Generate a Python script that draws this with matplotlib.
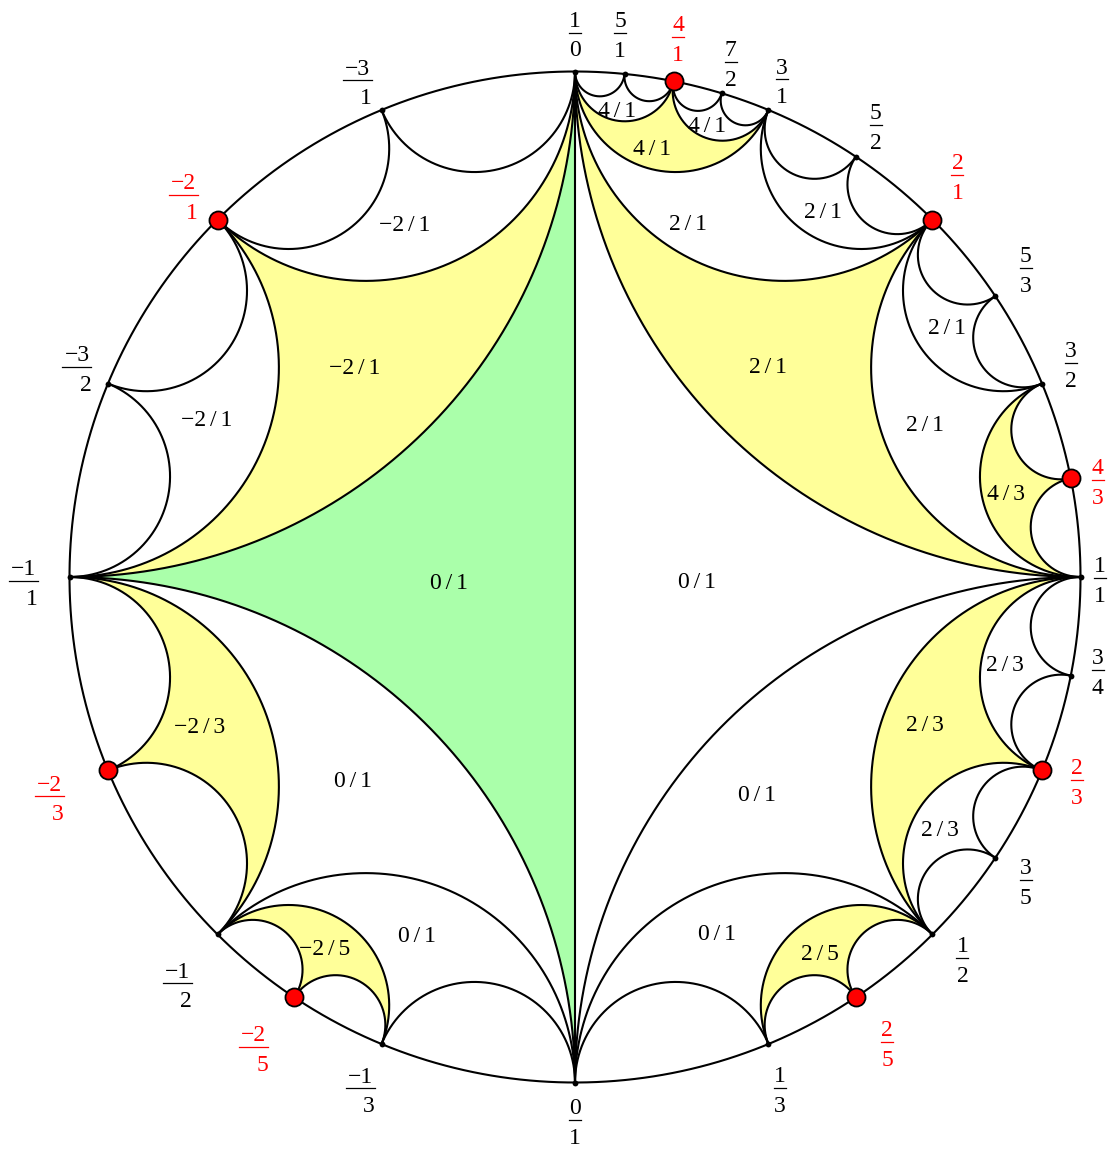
import numpy as np
import matplotlib.pyplot as plt
from matplotlib.patches import Polygon

plt.rcParams['font.family'] = ['Liberation Serif', 'DejaVu Serif']

# boundary points of the Farey diagram (p/q, 1/0 is infinity)
fractions = ["1/0", "5/1", "4/1", "7/2", "3/1", "5/2", "2/1", "5/3", "3/2", "4/3",
             "1/1", "3/4", "2/3", "3/5", "1/2", "2/5", "1/3", "0/1",
             "-1/3", "-2/5", "-1/2", "-2/3", "-1/1", "-3/2", "-2/1", "-3/1"]
marked = ["4/1", "2/1", "4/3", "2/3", "2/5", "-2/5", "-2/3", "-2/1"]

# Farey triangles, the slope written in each and how it is shaded
triangles = [
    ("0/1", "1/1", "1/0"), ("1/1", "2/1", "1/0"), ("2/1", "3/1", "1/0"),
    ("3/1", "4/1", "1/0"), ("4/1", "5/1", "1/0"), ("3/1", "7/2", "4/1"),
    ("2/1", "5/2", "3/1"), ("1/1", "3/2", "2/1"), ("3/2", "5/3", "2/1"),
    ("1/1", "4/3", "3/2"), ("0/1", "1/2", "1/1"), ("1/2", "2/3", "1/1"),
    ("2/3", "3/4", "1/1"), ("1/2", "3/5", "2/3"), ("0/1", "1/3", "1/2"),
    ("1/3", "2/5", "1/2"),
    ("-1/1", "0/1", "1/0"), ("-2/1", "-1/1", "1/0"), ("-3/1", "-2/1", "1/0"),
    ("-2/1", "-3/2", "-1/1"), ("-1/1", "-1/2", "0/1"), ("-1/1", "-2/3", "-1/2"),
    ("-1/2", "-1/3", "0/1"), ("-1/2", "-2/5", "-1/3"),
]
triangle_labels = ["0/1", "2/1", "2/1", "4/1", "4/1", "4/1", "2/1", "2/1", "2/1",
                   "4/3", "0/1", "2/3", "2/3", "2/3", "0/1", "2/5",
                   "0/1", "-2/1", "-2/1", "-2/1", "0/1", "-2/3", "0/1", "-2/5"]
triangle_kind = ["none", "yes", "none", "yes", "none", "none", "none", "none", "none",
                 "yes", "none", "yes", "none", "none", "none", "yes",
                 "base", "yes", "none", "none", "none", "yes", "none", "yes"]

# layout (pixels)
CX, CY, R = 575.0, 577.0, 505.5
fill_colors = {"none": "white", "yes": "#ffff99", "base": "#aaffaa"}
label_offsets = {
    "1/0": (-0.5, -39), "5/1": (-4.5, -41), "4/1": (4.5, -44.5), "7/2": (9, -31.5),
    "3/1": (13.5, -30.5), "5/2": (20, -32), "2/1": (25, -44.5), "5/3": (30.5, -28),
    "3/2": (28.5, -21), "4/3": (27, 1.5), "1/1": (19.5, 0.7), "3/4": (27, -5.5),
    "2/3": (34.5, 9.5), "3/5": (30.5, 22), "1/2": (30, 23.3), "2/5": (31.5, 44.5),
    "1/3": (11.5, 43.7), "0/1": (-0.5, 37.5), "-1/3": (-21, 44.3), "-2/5": (-40.5, 49.5),
    "-1/2": (-40, 49), "-2/3": (-58.5, 26), "-1/1": (-46.5, 4), "-3/2": (-31, -16.5),
    "-2/1": (-34, -24.5), "-3/1": (-24, -29.5),
}
region_xy = [(697, 580), (768, 365), (688, 222), (652, 147), (617, 109), (707, 124),
             (823, 210), (925, 423), (947, 326), (1006, 492), (757, 793), (925, 723),
             (1005, 663), (940, 828), (717, 932), (820, 952),
             (449, 581), (355, 366), (405, 223), (207, 418), (353, 779), (200, 725),
             (417, 934), (325, 947)]
FS = 17
BASE = 8.0   # baseline sits this many pixels below the digit centre


def parse(f):
    p, q = f.split("/")
    return int(p), int(q)


def sb_position(p, q):
    # 0/1 -> 0, 1/1 -> 1/2, 1/0 -> 1, mediants split intervals in half
    if q == 0:
        return 1.0
    if p == 0:
        return 0.0
    lo, hi = (0, 1), (1, 0)
    tlo, thi = 0.0, 1.0
    while True:
        m = (lo[0] + hi[0], lo[1] + hi[1])
        tm = 0.5 * (tlo + thi)
        if m[0] * q == p * m[1]:
            return tm
        if p * m[1] < m[0] * q:
            hi, thi = m, tm
        else:
            lo, tlo = m, tm


def angle(f):
    p, q = parse(f)
    if p < 0:
        return np.radians(270.0 - 180.0 * sb_position(-p, q))
    return np.radians(-90.0 + 180.0 * sb_position(p, q))


def to_px(xy):
    xy = np.atleast_2d(xy)
    return np.column_stack([CX + R * xy[:, 0], CY - R * xy[:, 1]])


def geodesic(f, g, n=300):
    a, b = angle(f), angle(g)
    u = np.array([np.cos(a), np.sin(a)])
    v = np.array([np.cos(b), np.sin(b)])
    s = u + v
    if np.linalg.norm(s) < 1e-9:
        t = np.linspace(0, 1, n)[:, None]
        return to_px(u + (v - u) * t)
    half = 0.5 * np.arccos(np.clip(np.dot(u, v), -1, 1))
    c = s / np.linalg.norm(s) / np.cos(half)
    r = np.tan(half)
    pu = np.arctan2(*(u - c)[::-1])
    pv = np.arctan2(*(v - c)[::-1])
    d = (pv - pu + np.pi) % (2 * np.pi) - np.pi
    ts = pu + d * np.linspace(0, 1, n)
    return to_px(c + r * np.column_stack([np.cos(ts), np.sin(ts)]))


def slope_text(s):
    # minus sign and a little air round the slash
    return s.replace("-", "\u2212").replace("/", "\u2006/\u2006")


fig = plt.figure(figsize=(11.08, 11.49), dpi=100)
ax = fig.add_axes([0, 0, 1, 1])
ax.set_xlim(0, 1108)
ax.set_ylim(1149, 0)
ax.axis('off')

# shaded triangles
for tri, kind in zip(triangles, triangle_kind):
    if kind == "none":
        continue
    a, b, c = sorted(tri, key=angle)
    poly = np.vstack([geodesic(a, b), geodesic(b, c), geodesic(c, a)])
    ax.add_patch(Polygon(poly, closed=True, facecolor=fill_colors[kind],
                         edgecolor='none', zorder=1))

# edges, each drawn once
edges = set()
for tri in triangles:
    for i in range(3):
        e = tuple(sorted((tri[i], tri[(i + 1) % 3])))
        edges.add(e)
for f, g in sorted(edges):
    pts = geodesic(f, g)
    ax.plot(pts[:, 0], pts[:, 1], color='black', lw=1.5, zorder=2,
            solid_capstyle='round')

# boundary circle
th = np.linspace(0, 2 * np.pi, 1000)
circ = to_px(np.column_stack([np.cos(th), np.sin(th)]))
ax.plot(circ[:, 0], circ[:, 1], color='black', lw=1.5, zorder=2)

# slope labels inside the triangles
for text, (x, y) in zip(triangle_labels, region_xy):
    ax.text(x, y + BASE, slope_text(text), ha='center', va='baseline',
            fontsize=FS, color='black', zorder=4)

# boundary points and their fractions
for f in fractions:
    a = angle(f)
    x, y = to_px([np.cos(a), np.sin(a)])[0]
    red = f in marked
    if red:
        ax.plot(x, y, 'o', ms=13, mfc='red', mec='black', mew=1.3, zorder=5)
    else:
        ax.plot(x, y, 'o', ms=4.2, mfc='black', mec='black', mew=0, zorder=5)
    col = 'red' if red else 'black'
    dx, dy = label_offsets[f]
    bx, by = x + dx, y + dy
    num, den = f.split("/")
    neg = num.startswith("-")
    ax.text(bx, by - 13.7 + BASE, num.replace("-", "\u2212"), ha='center',
            va='baseline', fontsize=FS, color=col, zorder=4)
    half = 14.5 if neg else 6
    ax.plot([bx - half, bx + half], [by, by], color=col, lw=0.9, zorder=4)
    ax.text(bx + (8.5 if neg else 0), by + 16 + BASE, den, ha='center',
            va='baseline', fontsize=FS, color=col, zorder=4)

fig.savefig("out.png", dpi=100)
